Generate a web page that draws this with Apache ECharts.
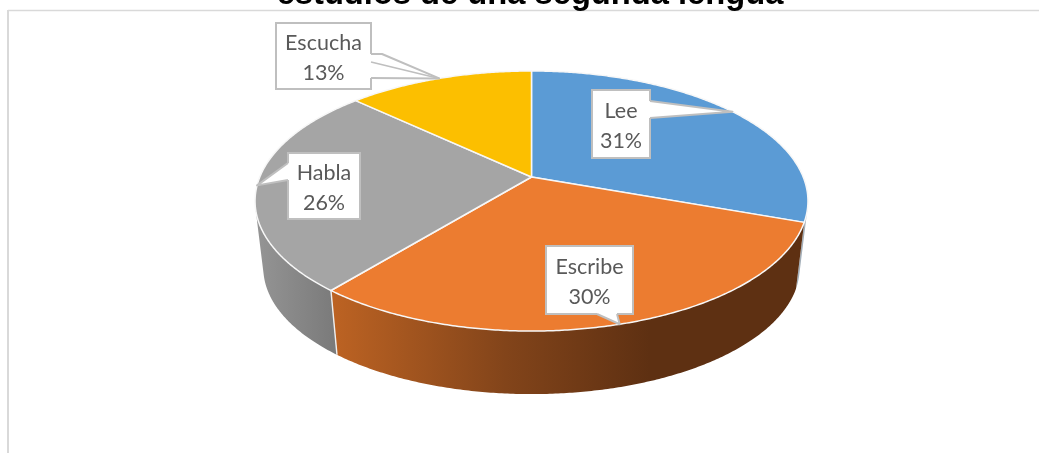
<!DOCTYPE html>
<html>
<head>
<meta charset="utf-8">
<style>html,body{margin:0;padding:0;background:#fff}#c{width:1039px;height:453px}</style>
<script src="https://cdn.jsdelivr.net/npm/echarts@6/dist/echarts.min.js"></script>
</head>
<body>
<div id="c"></div>
<script>
// ---- data ----
const categories = ['Lee', 'Escribe', 'Habla', 'Escucha'];
const shares = [30.5, 30.4, 26.1, 13];
const titleText = 'estudios de una segunda lengua';

// ---- styles and layout, kept apart from the data ----
const topColors = ['#5B9BD5', '#EC7C30', '#A5A5A5', '#FCBF00'];
const LG = echarts.graphic.LinearGradient;
const sideFills = [
  '#A3AEB8',
  new LG(331, 0, 650, 0, [{offset: 0, color: '#BD6323'}, {offset: .55, color: '#82441A'}, {offset: 1, color: '#5E3012'}], true),
  new LG(255, 0, 336, 0, [{offset: 0, color: '#959595'}, {offset: 1, color: '#7A7A7A'}], true),
  '#A07A00'
];
const apex = {x: 531.5, y: 177};
const proj = {A: 271.7, B: 125.6, k: 0.1846};   // perspective of the disc
const wall = {scale: 0.97, drop: 67.7};          // lower rim relative to upper rim
const boxes = [[592, 90, 650, 158], [546, 246, 633, 314], [288, 153, 360, 219], [276, 23, 371, 89]];
const wedges = [
  [[650, 101], null, [650, 118]],
  [[597, 314], null, [617, 314]],
  [[288, 163], null, [288, 180]],
  [[371, 54], [382, 54], null, [371, 78]]
];
const wedgeInset = [[-2, 0], [0, -2], [2, 0], [-2, 0]];
const extraLines = [null, null, null, [371, 62]];
const wallEdgeAt = [false, false, true, false];  // pale seam at the start of a slice wall
const BORDER = '#BFBFBF';

// ---- geometry derived from data ----
const total = shares.reduce((a, b) => a + b, 0);
const bounds = [0];
shares.forEach(v => bounds.push(bounds[bounds.length - 1] + v / total * 360));

function rim(deg) {
  const t = deg * Math.PI / 180, X = Math.sin(t), Y = Math.cos(t), w = 1 + proj.k * Y;
  return [apex.x + proj.A * X / w, apex.y - proj.B * Y / w];
}
function lower(p) {
  return [apex.x + wall.scale * (p[0] - apex.x), apex.y + wall.drop + wall.scale * (p[1] - apex.y)];
}
function arc(a0, a1) {
  const n = Math.max(2, Math.ceil((a1 - a0) * 2)), out = [];
  for (let i = 0; i <= n; i++) out.push(rim(a0 + (a1 - a0) * i / n));
  return out;
}
// Angle at which the wall turns away from the viewer: the rim tangent lines up with the wall edge.
function foldCross(a) {
  const p = rim(a), q = rim(a + 0.05), l = lower(p);
  return (q[0] - p[0]) * (l[1] - p[1]) - (q[1] - p[1]) * (l[0] - p[0]);
}
function findFold(lo, hi) {
  const sLo = Math.sign(foldCross(lo));
  for (let n = 0; n < 40; n++) {
    const m = (lo + hi) / 2;
    if (Math.sign(foldCross(m)) === sLo) lo = m; else hi = m;
  }
  return (lo + hi) / 2;
}
const foldRight = findFold(50, 130);
const foldLeft = findFold(230, 310);

const sideSeries = {
  type: 'custom', coordinateSystem: 'none', silent: true, z: 1, animation: false,
  data: shares,
  renderItem: (params) => {
    const i = params.dataIndex;
    const a0 = Math.max(bounds[i], foldRight), a1 = Math.min(bounds[i + 1], foldLeft);
    if (a1 <= a0) return {type: 'group', children: []};
    const top = arc(a0, a1);
    const children = [{type: 'polygon', shape: {points: top.concat(top.map(lower).reverse())},
      style: {fill: sideFills[i]}}];
    if (wallEdgeAt[i]) {
      children.push({type: 'line',
        shape: {x1: top[0][0], y1: top[0][1], x2: lower(top[0])[0], y2: lower(top[0])[1]},
        style: {stroke: '#EFEFEF', lineWidth: 1.4}});
    }
    return {type: 'group', children};
  }
};
const topSeries = {
  type: 'custom', coordinateSystem: 'none', silent: true, z: 2, animation: false,
  data: shares,
  renderItem: (params) => {
    const i = params.dataIndex;
    const pts = [[apex.x, apex.y]].concat(arc(bounds[i], bounds[i + 1]));
    return {type: 'polygon', shape: {points: pts},
      style: {fill: topColors[i], stroke: '#F7F7F7', lineWidth: 1.5, lineJoin: 'round'}};
  }
};
const calloutSeries = {
  type: 'custom', coordinateSystem: 'none', silent: true, z: 3, animation: false,
  data: shares,
  renderItem: (params) => {
    const i = params.dataIndex, b = boxes[i];
    const tip = rim((bounds[i] + bounds[i + 1]) / 2);
    const line = wedges[i].map(p => p || tip);
    const inset = wedgeInset[i];
    const fillPts = [
      [line[0][0] + inset[0], line[0][1] + inset[1]],
      ...line,
      [line[line.length - 1][0] + inset[0], line[line.length - 1][1] + inset[1]]
    ];
    const children = [
      {type: 'rect', shape: {x: b[0], y: b[1], width: b[2] - b[0], height: b[3] - b[1]},
        style: {fill: '#fff', stroke: BORDER, lineWidth: 2}},
      {type: 'polygon', shape: {points: fillPts}, style: {fill: '#fff', stroke: null}},
      {type: 'polyline', shape: {points: line}, style: {fill: null, stroke: BORDER, lineWidth: 2, lineJoin: 'round'}}
    ];
    if (extraLines[i]) {
      children.push({type: 'polyline', shape: {points: [extraLines[i], tip]},
        style: {fill: null, stroke: BORDER, lineWidth: 1.6}});
    }
    children.push({type: 'text', style: {
      x: (b[0] + b[2]) / 2, y: (b[1] + b[3]) / 2 + 2,
      text: categories[i] + '\n' + Math.round(shares[i]) + '%',
      align: 'center', verticalAlign: 'middle',
      fill: '#595959', fontFamily: 'Lato', fontSize: 21.5, lineHeight: 29.5
    }});
    return {type: 'group', children};
  }
};

const chart = echarts.init(document.getElementById('c'), null, {renderer: 'canvas'});
chart.setOption({
  backgroundColor: '#fff',
  animation: false,
  title: {
    text: titleText, left: 525, top: -27, textAlign: 'center',
    textStyle: {color: '#000', fontFamily: 'Liberation Sans', fontWeight: 'bold', fontSize: 32.7}
  },
  graphic: [
    {type: 'line', z: 0, shape: {x1: 8, y1: 10.5, x2: 1039, y2: 10.5}, style: {stroke: '#D9D9D9', lineWidth: 1.4}},
    {type: 'line', z: 0, shape: {x1: 8, y1: 10, x2: 8, y2: 453}, style: {stroke: '#D9D9D9', lineWidth: 2}}
  ],
  series: [sideSeries, topSeries, calloutSeries]
});
</script>
</body>
</html>
